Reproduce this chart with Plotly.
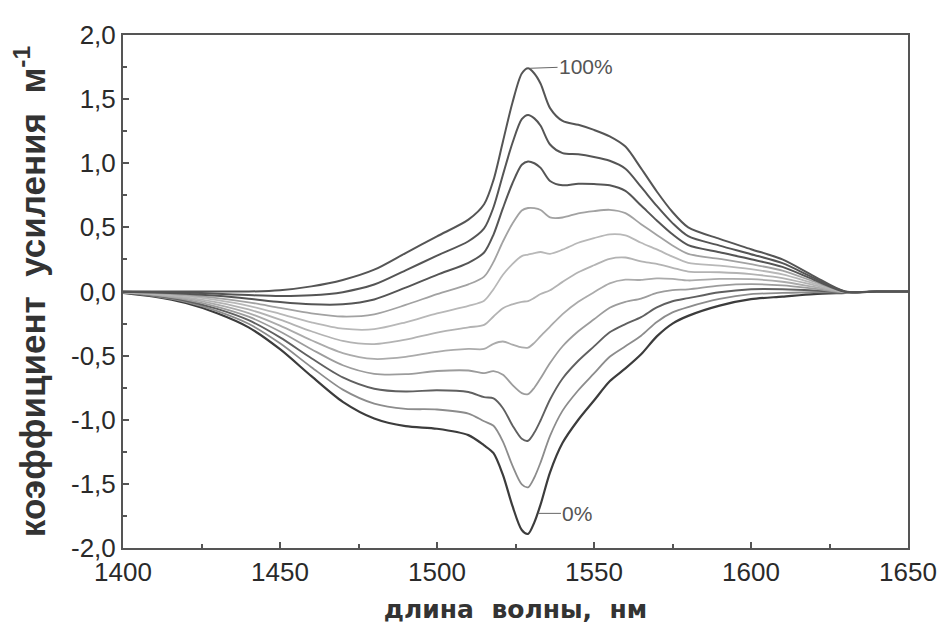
import plotly.graph_objects as go

# wavelength grid, nm
wavelength = [1400, 1410, 1420, 1430, 1440, 1450, 1460, 1470, 1480, 1490, 1500,
              1510, 1515, 1518, 1521, 1524, 1527, 1529, 1531, 1533, 1536, 1540,
              1545, 1550, 1555, 1560, 1565, 1570, 1575, 1580, 1590, 1600, 1610,
              1620, 1630, 1640, 1650]

# gain coefficient (1/m) for inversion levels 0% ... 100%
gain_0 = [-0.01, -0.04, -0.09, -0.17, -0.28, -0.45, -0.66, -0.86, -0.99, -1.05, -1.07,
          -1.12, -1.20, -1.26, -1.43, -1.67, -1.86, -1.89, -1.80, -1.66, -1.41, -1.18,
          -1.00, -0.85, -0.70, -0.60, -0.49, -0.35, -0.25, -0.19, -0.11, -0.06, -0.04,
          -0.02, -0.01, 0.0, 0.0]
gain_10 = [-0.009, -0.036, -0.081, -0.153, -0.252, -0.404, -0.59, -0.765, -0.874, -0.915, -0.92,
           -0.952, -1.012, -1.047, -1.17, -1.356, -1.504, -1.527, -1.45, -1.332, -1.126, -0.929,
           -0.77, -0.639, -0.509, -0.427, -0.345, -0.237, -0.163, -0.121, -0.058, -0.021, -0.011,
           -0.006, -0.009, 0.0, 0.0]
gain_20 = [-0.008, -0.032, -0.072, -0.136, -0.224, -0.358, -0.52, -0.67, -0.758, -0.78, -0.77,
           -0.784, -0.824, -0.834, -0.91, -1.042, -1.148, -1.164, -1.10, -1.004, -0.842, -0.678,
           -0.54, -0.428, -0.318, -0.254, -0.20, -0.124, -0.076, -0.052, -0.006, 0.018, 0.018,
           0.008, -0.008, 0.0, 0.0]
gain_30 = [-0.007, -0.028, -0.063, -0.119, -0.196, -0.312, -0.45, -0.575, -0.642, -0.645, -0.62,
           -0.616, -0.636, -0.621, -0.65, -0.728, -0.792, -0.801, -0.75, -0.676, -0.558, -0.427,
           -0.31, -0.217, -0.127, -0.081, -0.055, -0.011, 0.011, 0.017, 0.046, 0.057, 0.047,
           0.022, -0.007, 0.0, 0.0]
gain_40 = [-0.006, -0.024, -0.054, -0.102, -0.168, -0.266, -0.38, -0.48, -0.526, -0.51, -0.47,
           -0.448, -0.448, -0.408, -0.39, -0.414, -0.436, -0.438, -0.40, -0.348, -0.274, -0.176,
           -0.08, -0.006, 0.064, 0.092, 0.09, 0.102, 0.098, 0.086, 0.098, 0.096, 0.076,
           0.036, -0.006, 0.0, 0.0]
gain_50 = [-0.005, -0.02, -0.045, -0.085, -0.14, -0.22, -0.31, -0.385, -0.41, -0.375, -0.32,
           -0.28, -0.26, -0.195, -0.13, -0.10, -0.08, -0.075, -0.05, -0.02, 0.01, 0.075,
           0.15, 0.205, 0.255, 0.265, 0.235, 0.215, 0.185, 0.155, 0.15, 0.135, 0.105,
           0.05, -0.005, 0.0, 0.0]
gain_60 = [-0.004, -0.016, -0.036, -0.068, -0.112, -0.174, -0.24, -0.29, -0.294, -0.24, -0.17,
           -0.112, -0.072, 0.018, 0.13, 0.214, 0.276, 0.288, 0.30, 0.308, 0.294, 0.326,
           0.38, 0.416, 0.446, 0.438, 0.38, 0.328, 0.272, 0.224, 0.202, 0.174, 0.134,
           0.064, -0.004, 0.0, 0.0]
gain_70 = [-0.003, -0.012, -0.027, -0.051, -0.084, -0.128, -0.17, -0.195, -0.178, -0.105, -0.02,
           0.056, 0.116, 0.231, 0.39, 0.528, 0.632, 0.651, 0.65, 0.636, 0.578, 0.577,
           0.61, 0.627, 0.637, 0.611, 0.525, 0.441, 0.359, 0.293, 0.254, 0.213, 0.163,
           0.078, -0.003, 0.0, 0.0]
gain_80 = [-0.002, -0.008, -0.018, -0.034, -0.056, -0.082, -0.10, -0.10, -0.062, 0.03, 0.13,
           0.224, 0.304, 0.444, 0.65, 0.842, 0.988, 1.014, 1.00, 0.964, 0.862, 0.828,
           0.84, 0.838, 0.828, 0.784, 0.67, 0.554, 0.446, 0.362, 0.306, 0.252, 0.192,
           0.092, -0.002, 0.0, 0.0]
gain_90 = [-0.001, -0.004, -0.009, -0.017, -0.028, -0.036, -0.03, -0.005, 0.054, 0.165, 0.28,
           0.392, 0.492, 0.657, 0.91, 1.156, 1.344, 1.377, 1.35, 1.292, 1.146, 1.079,
           1.07, 1.049, 1.019, 0.957, 0.815, 0.667, 0.533, 0.431, 0.358, 0.291, 0.221,
           0.106, -0.001, 0.0, 0.0]
gain_100 = [0.0, 0.0, 0.0, 0.0, 0.0, 0.01, 0.04, 0.09, 0.17, 0.30, 0.43,
            0.56, 0.68, 0.87, 1.17, 1.47, 1.70, 1.74, 1.70, 1.62, 1.43, 1.33,
            1.30, 1.26, 1.21, 1.13, 0.96, 0.78, 0.62, 0.50, 0.41, 0.33, 0.25,
            0.12, 0.0, 0.0, 0.0]

inversion_labels = ["0%", "10%", "20%", "30%", "40%", "50%", "60%", "70%", "80%", "90%", "100%"]
series = [gain_0, gain_10, gain_20, gain_30, gain_40, gain_50,
          gain_60, gain_70, gain_80, gain_90, gain_100]

x_tick_values = [1400, 1450, 1500, 1550, 1600, 1650]
y_tick_values = [-2.0, -1.5, -1.0, -0.5, 0.0, 0.5, 1.0, 1.5, 2.0]
y_tick_labels = ["-2,0", "-1,5", "-1,0", "-0,5", "0,0", "0,5", "1,0", "1,5", "2,0"]

line_colors = ["#3c3c3c", "#8c8c8c", "#606060", "#9c9c9c", "#ababab", "#b3b3b3",
               "#b8b8b8", "#a2a2a2", "#555555", "#555555", "#555555"]
line_widths = [2.2, 1.8, 1.9, 1.8, 1.8, 1.8, 1.8, 1.8, 2.0, 2.0, 2.0]

fig = go.Figure()
for name, ys, c, w in zip(inversion_labels, series, line_colors, line_widths):
    fig.add_trace(go.Scatter(
        x=wavelength, y=ys, mode="lines", name=name,
        line=dict(color=c, width=w, shape="spline", smoothing=0.8),
        showlegend=False, hoverinfo="x+y+name"))

# curve labels
fig.add_annotation(x=wavelength[17], y=gain_100[17], text="100%", showarrow=True,
                   arrowhead=0, arrowwidth=1, arrowcolor="#666", ax=58, ay=-2,
                   standoff=2, font=dict(family="Liberation Sans, Arial", size=21, color="#555"))
fig.add_annotation(x=1532, y=-1.73, text="0%", showarrow=True,
                   arrowhead=0, arrowwidth=1, arrowcolor="#666", ax=40, ay=0,
                   standoff=1, font=dict(family="Liberation Sans, Arial", size=21, color="#555"))

axis_line = dict(showline=True, linecolor="#555", linewidth=2, mirror=True,
                 ticks="inside", tickcolor="#555", tickwidth=1.5, ticklen=6,
                 showgrid=False, zeroline=False,
                 tickfont=dict(family="Liberation Sans, Arial", size=26, color="#2a2a2a"))

fig.update_xaxes(range=[1400, 1650], tickvals=x_tick_values,
                 minor=dict(ticks="inside", dtick=25, ticklen=4, tickcolor="#555", showgrid=False),
                 title=dict(text="<b>длина  волны,  нм</b>", standoff=14,
                            font=dict(family="DejaVu Sans, Arial", size=25, color="#333")),
                 **axis_line)
fig.update_yaxes(range=[-2, 2], tickvals=y_tick_values, ticktext=y_tick_labels,
                 minor=dict(ticks="inside", dtick=0.25, ticklen=4, tickcolor="#555", showgrid=False),
                 title=dict(text="<b>коэффициент  усиления  м<sup>-1</sup></b>", standoff=26,
                            font=dict(family="Liberation Sans, Arial", size=35, color="#333")),
                 **axis_line)

# page body adds an 8px offset, so margins are shifted to keep the plot area in place
fig.update_layout(width=950, height=640, paper_bgcolor="white", plot_bgcolor="white",
                  margin=dict(l=114, r=50, t=17, b=100),
                  font=dict(family="Liberation Sans, Arial"))

fig.write_html("out.html")
